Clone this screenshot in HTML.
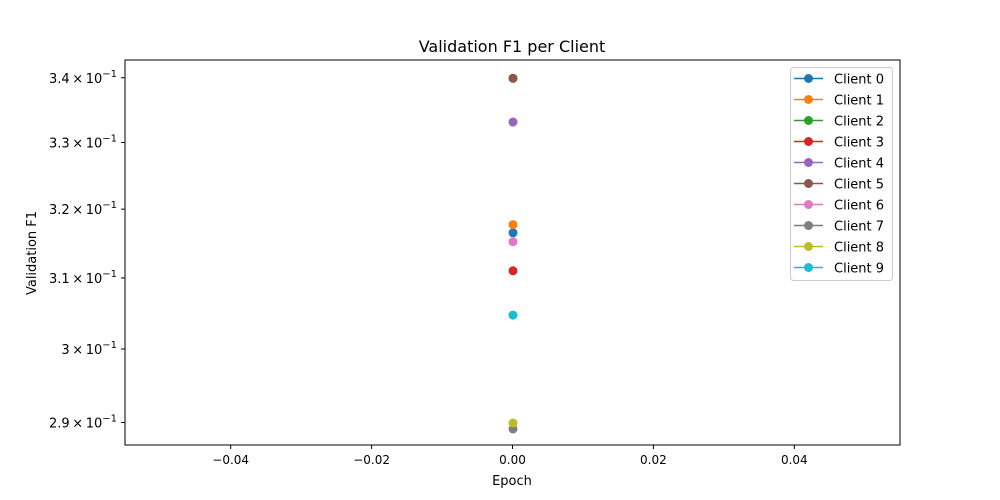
<!DOCTYPE html>
<html><head><meta charset="utf-8"><style>
body{margin:0;background:#fff;}
svg{display:block;font-family:"DejaVu Sans","Liberation Sans",sans-serif;}
</style></head><body>
<svg id="chart" width="1000" height="500"></svg>
<script>
const clients = ["Client 0","Client 1","Client 2","Client 3","Client 4","Client 5","Client 6","Client 7","Client 8","Client 9"];
const epochs = [0];
const f1Values = [[0.3166],[0.3178],[0.3400],[0.3111],[0.3332],[0.3400],[0.3153],[0.2892],[0.2900],[0.3048]];
const colors = ["#1f77b4","#ff7f0e","#2ca02c","#d62728","#9467bd","#8c564b","#e377c2","#7f7f7f","#bcbd22","#17becf"];
const yTicks = [0.29,0.30,0.31,0.32,0.33,0.34];
const yTickLabels = ["2.9","3","3.1","3.2","3.3","3.4"];
const xTicks = [-0.04,-0.02,0,0.02,0.04];
const xTickLabels = ["\u22120.04","\u22120.02","0.00","0.02","0.04"];

const L=125,R=900,T=60,B=445;
const xMin=-0.055,xMax=0.055,yMin=0.2870,yMax=0.3428;
const NS="http://www.w3.org/2000/svg";
const svg=document.getElementById('chart');
const xs=v=>L+(v-xMin)/(xMax-xMin)*(R-L);
const ys=v=>B-(Math.log10(v)-Math.log10(yMin))/(Math.log10(yMax)-Math.log10(yMin))*(B-T);
function mk(tag,attrs,parent){const e=document.createElementNS(NS,tag);for(const k in attrs)e.setAttribute(k,attrs[k]);(parent||svg).appendChild(e);return e;}

const title=mk('text',{x:512,y:52,'text-anchor':'middle','font-size':16});


title.textContent='Validation F1 per Client';

xTicks.forEach((t,i)=>{
  const g=mk('g',{});
  
  
  mk('line',{x1:xs(t),x2:xs(t),y1:B,y2:B+4,stroke:'#000'},g);
  const tx=mk('text',{x:xs(t),y:B+19,'text-anchor':'middle','font-size':12},g);
  tx.textContent=xTickLabels[i];
});
yTicks.forEach((t,i)=>{
  const g=mk('g',{});
  
  
  const y=ys(t);
  mk('line',{x1:L-4,x2:L,y1:y,y2:y,stroke:'#000'},g);
  const tx=mk('text',{x:L-8,y:y+5,'text-anchor':'end','font-size':13},g);
  tx.innerHTML=yTickLabels[i]+'\u2009\u00d7\u200910<tspan dy="-6" font-size="10">\u22121</tspan>';
});
const xl=mk('text',{x:512,y:485,'text-anchor':'middle','font-size':13});


xl.textContent='Epoch';
const yl=mk('text',{x:36,y:253,'text-anchor':'middle','font-size':13,transform:'rotate(-90 36 253)'});


yl.textContent='Validation F1';

clients.forEach((c,i)=>{
  const g=mk('g',{});
  
  
  f1Values[i].forEach((v,j)=>{
    mk('circle',{cx:xs(epochs[j])+0.5,cy:ys(v)+0.5,r:4.5,fill:colors[i]},g);
  });
});

const frame=mk('rect',{x:L,y:T,width:R-L,height:B-T,fill:'none',stroke:'#000','stroke-width':1});



const lg=mk('g',{});


mk('rect',{x:790.5,y:67.5,width:102,height:213,rx:3,fill:'#fff','fill-opacity':0.8,stroke:'#ccc'},lg);
clients.forEach((c,i)=>{
  const e=mk('g',{},lg);
  
  
  const y=78.5+i*21;
  mk('line',{x1:794,x2:823,y1:y,y2:y,stroke:colors[i],'stroke-width':1.5},e);
  mk('circle',{cx:808.5,cy:y,r:4.5,fill:colors[i]},e);
  const t=mk('text',{x:834,y:y+5,'font-size':13},e);
  t.textContent=c;
});
</script>
</body></html>
